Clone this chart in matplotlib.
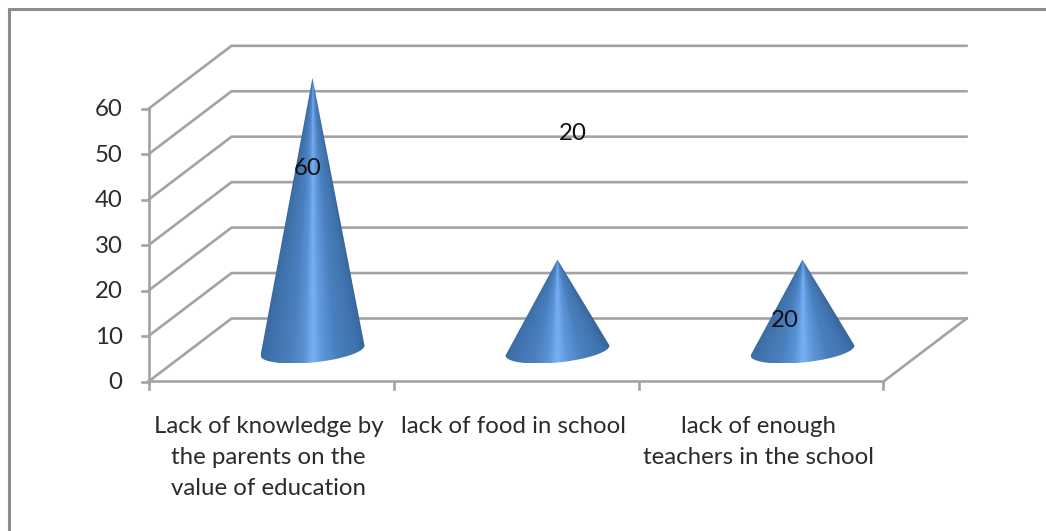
import numpy as np
import matplotlib
matplotlib.use('Agg')
import matplotlib.pyplot as plt
from matplotlib.colors import LinearSegmentedColormap
from matplotlib.path import Path
from matplotlib.patches import PathPatch
from matplotlib.lines import Line2D

categorias = ['Lack of knowledge by\nthe parents on the\nvalue of education',
              'lack of food in school',
              'lack of enough\nteachers in the school']
valores = [60, 20, 20]
ticks_y = [0, 10, 20, 30, 40, 50, 60]

W, H = 1046, 531
GRIS = '#a3a3a3'
TEXTO = '#2b2b2b'
plt.rcParams['font.family'] = ['Lato', 'DejaVu Sans']

# escala: x en categorias, y en valor; el eje ocupa toda la figura
PX_X0, PX_CAT = 148.5, 245.0     # pixel de x=0, pixeles por categoria
PX_Y0, PX_VAL = 381.5, 4.545     # pixel de y=0, pixeles por unidad
DX = 83.0 / PX_CAT               # profundidad del piso 3D
DY = 63.0 / PX_VAL

fig = plt.figure(figsize=(W / 100, H / 100), dpi=100)
ax = fig.add_axes([0, 0, 1, 1])
ax.set_xlim(-PX_X0 / PX_CAT, (W - PX_X0) / PX_CAT)
ax.set_ylim((PX_Y0 - H) / PX_VAL, PX_Y0 / PX_VAL)
ax.axis('off')

px_x = 1 / PX_CAT
px_y = 1 / PX_VAL
n = len(categorias)
ymax = max(ticks_y)

# marco exterior: solo se ve arriba y a la izquierda
fig.add_artist(Line2D([8.5 / W, 8.5 / W, 1], [0, 1 - 9 / H, 1 - 9 / H], transform=fig.transFigure,
                      color='#8c8c8c', lw=2.2, solid_joinstyle='miter'))

# rejilla: linea lateral y linea de fondo
for t in ticks_y:
    ax.plot([0, DX, n + DX], [t, t + DY, t + DY], color=GRIS, lw=1.9, solid_joinstyle='miter', zorder=1)
    ax.plot([-7 * px_x, 0], [t, t], color=GRIS, lw=1.9, zorder=1)
    ax.text(-26 * px_x, t - 1 * px_y, str(t), ha='right', va='center', fontsize=17.3, color=TEXTO, zorder=5)

# ejes del frente y piso
ax.plot([0, 0], [-1 * px_y, ymax], color=GRIS, lw=1.9, zorder=1)
ax.plot([0, n, n + DX], [0, 0, DY], color=GRIS, lw=1.9, solid_joinstyle='miter', zorder=1)
for i in range(n + 1):
    ax.plot([i, i], [0, -7 * px_y], color=GRIS, lw=1.9, zorder=1)

cmap = LinearSegmentedColormap.from_list('cono', [
    (0.00, '#3a6aa3'), (0.12, '#4174ae'), (0.30, '#4a80bf'), (0.42, '#5a93d6'), (0.50, '#78b1f3'),
    (0.58, '#5f99dc'), (0.72, '#4a80bf'), (0.90, '#4174ae'), (1.00, '#38679e')])


def dibuja_cono(centro, valor):
    base_y = DY / 2 - 0.5 * px_y
    rx = 52 * px_x
    ry = 12 * px_y
    incl = 5 * px_y    # la base esta un poco inclinada
    cx = centro + DX / 2
    tope = valor + base_y
    t = np.linspace(np.pi, 2 * np.pi, 60)
    bx = cx + rx * np.cos(t)
    by = base_y + ry * np.sin(t) + incl * np.cos(t)
    clip = PathPatch(Path(np.c_[np.r_[bx, cx, bx[0]], np.r_[by, tope, by[0]]]),
                     transform=ax.transData, fc='none', ec='none')
    ax.add_patch(clip)
    # el degradado converge hacia la punta
    gy = np.linspace(by.min(), tope, 500)
    gx = np.linspace(cx - rx, cx + rx, 300)
    xx, yy = np.meshgrid(gx, gy)
    ancho = np.maximum(rx * (tope - yy) / (tope - base_y), 1e-4)
    u = np.clip((xx - cx) / ancho / 2 + 0.5, 0, 1)
    im = ax.imshow(u, cmap=cmap, vmin=0, vmax=1, origin='lower',
                   extent=[cx - rx, cx + rx, by.min(), tope],
                   aspect='auto', zorder=3, interpolation='bilinear')
    im.set_clip_path(clip)


for i, v in enumerate(valores):
    dibuja_cono(i + 0.5, v)
ax.set_xlim(-PX_X0 / PX_CAT, (W - PX_X0) / PX_CAT)
ax.set_ylim((PX_Y0 - H) / PX_VAL, PX_Y0 / PX_VAL)

# etiquetas de datos, corridas respecto de la punta como en el original (en pixeles)
corrimiento = [(-5, -91), (15, 126), (-18, -61)]
for i, v in enumerate(valores):
    ox, oy = corrimiento[i]
    ax.annotate(str(v), (i + 0.5 + DX / 2, v + DY / 2), xytext=(ox * 0.72, oy * 0.72),
                textcoords='offset points', ha='center', va='center', fontsize=17.3, color='#111111', zorder=6)

# etiquetas de categorias
for i, c in enumerate(categorias):
    ax.text(i + 0.49, -34.5 * px_y, c, ha='center', va='top', fontsize=17.3, color=TEXTO,
            linespacing=1.6, zorder=5)

fig.savefig('out.png', dpi=100, facecolor='white')
